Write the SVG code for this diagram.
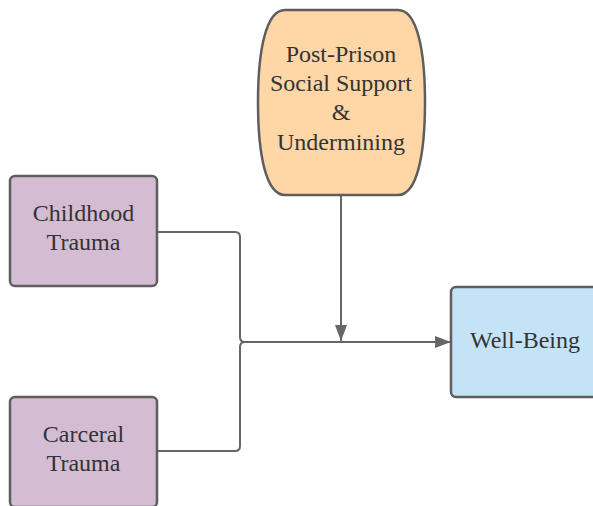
<svg xmlns="http://www.w3.org/2000/svg" width="593" height="506" viewBox="0 0 593 506">
<style>
.node{stroke:#5e5e5e;stroke-width:2.5}
.purple{fill:#d4bcd3}
.txt{font-family:"Liberation Serif",serif;font-size:24px;fill:#333;text-anchor:middle}
.conn{fill:none;stroke:#666;stroke-width:2}
</style>
<defs>
<marker id="arrL" viewBox="0 0 16 12" refX="16" refY="6" markerWidth="16" markerHeight="12" markerUnits="userSpaceOnUse" orient="auto"><path d="M0,0 L16,6 L0,12 Z" fill="#666"/></marker>
</defs>
<rect width="593" height="506" fill="#fff"/>
<g id="connectors">
<path class="conn" d="M157,232 H235 Q240,232 240,237 V337 Q240,342 245,342"/>
<path class="conn" d="M157,451 H235 Q240,451 240,446 V347 Q240,342 245,342 H451" marker-end="url(#arrL)"/>
<path class="conn" d="M341,195 V341" marker-end="url(#arrL)"/>
</g>
<g id="post-prison">
<path class="node" fill="#ffd6a6" d="M285,10 L398,10 C417,10 425,50 425,102 C425,155 417,195 398,195 L285,195 C266,195 258,155 258,102 C258,50 266,10 285,10 Z"/>
<text class="txt" x="341" y="62">Post-Prison</text>
<text class="txt" x="341" y="91">Social Support</text>
<text class="txt" x="341" y="120">&amp;</text>
<text class="txt" x="341" y="150">Undermining</text>
</g>
<g id="childhood">
<rect class="node purple" x="10" y="176" width="147" height="110" rx="5"/>
<text class="txt" x="83.5" y="221">Childhood</text>
<text class="txt" x="83.5" y="250">Trauma</text>
</g>
<g id="carceral">
<rect class="node purple" x="10" y="397" width="147" height="110" rx="5"/>
<text class="txt" x="83.5" y="442">Carceral</text>
<text class="txt" x="83.5" y="471">Trauma</text>
</g>
<g id="wellbeing">
<rect class="node" fill="#c5e3f6" x="451" y="287" width="150" height="110" rx="5"/>
<text class="txt" x="525" y="348">Well-Being</text>
</g>
</svg>
